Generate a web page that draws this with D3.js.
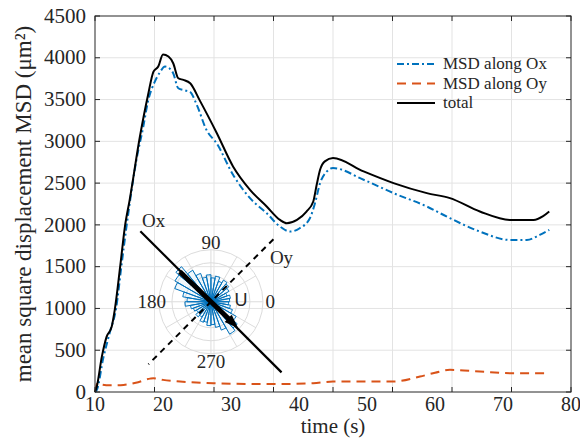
<!DOCTYPE html>
<html>
<head>
<meta charset="utf-8">
<script src="https://cdn.jsdelivr.net/npm/d3@7/dist/d3.min.js"></script>
<style>
  body { margin: 0; background: #fff; }
  text { font-family: "Liberation Serif", "Times New Roman", serif; fill: #262626; }
</style>
</head>
<body>
<svg id="chart" width="580" height="438"></svg>
<script>
// series: [time (s), MSD (um^2)]
const totalPts = [[10,0],[10.25,60],[11,420],[11.7,660],[12.45,780],[12.9,980],[13.7,1500],[14.4,1980],
  [15.1,2300],[16.6,3055],[17.8,3555],[18.6,3835],[19.3,3895],[20.0,4040],[20.8,4015],[21.5,3935],
  [22.25,3755],[23.0,3735],[24.0,3695],[25.4,3490],[27.9,3100],[30.3,2700],[32.8,2420],[35.25,2220],
  [37.2,2060],[38.2,2020],[39.7,2060],[41.1,2160],[42.1,2280],[42.6,2480],[43.1,2660],[43.8,2760],
  [45.0,2800],[49.5,2640],[53.9,2500],[58.8,2380],[62.2,2320],[66.6,2160],[71.0,2060],[74.5,2060],
  [75.9,2105],[76.8,2160]];
const oxPts = [[10,0],[10.3,30],[11.2,400],[12.2,720],[13.1,1000],[13.9,1520],[14.6,1960],[16.1,2780],
  [17.1,3175],[17.8,3480],[18.8,3715],[19.5,3820],[20.3,3895],[21.0,3870],[21.5,3815],[22.25,3635],
  [23.2,3610],[24.0,3590],[25.0,3430],[26.4,3135],[27.9,2975],[30.3,2600],[32.8,2320],[35.25,2140],
  [37.2,1980],[38.7,1920],[40.1,1960],[41.6,2080],[42.35,2260],[43.1,2500],[44.1,2640],[45.0,2680],
  [49.5,2540],[53.9,2380],[58.8,2220],[62.2,2080],[66.6,1920],[71.0,1820],[73.5,1820],[75.4,1880],
  [76.8,1940]];
const oyPts = [[10,0],[10.4,110],[11,90],[12.2,80],[14.2,85],[16,110],[18.1,160],[18.6,165],[20,145],
  [22.5,125],[27.4,105],[36.2,95],[42.1,105],[45,125],[53.9,125],[57.8,185],[60,230],[62.2,265],
  [66.6,245],[71.5,225],[76.9,225]];

const xTickLabels = [10, 20, 30, 40, 50, 60, 70, 80];
const xGridCount = 9;               // the figure has 9 tick marks under 8 labels
const yTicks = d3.range(0, 4501, 500);

// rose histogram of displacement direction: 36 bins of 10 deg, radius as fraction of outer ring
const roseBins = [0.36,0.38,0.33,0.40,0.45,0.48,0.42,0.50,0.46,0.52,0.48,0.58,0.70,0.88,0.80,0.74,0.55,0.46,
  0.50,0.40,0.36,0.32,0.38,0.34,0.42,0.40,0.46,0.44,0.50,0.58,0.72,0.66,0.56,0.44,0.38,0.34];
const ringLevels = [0.25, 0.5, 0.75, 1];
const spokeAngles = d3.range(0, 360, 30);
const thetaLabels = [0, 90, 180, 270];
const insetCenter = [27.05, 1080];  // data coords of the polar inset
const frameAxes = [
  { name: "Ox", angle: 135, len: 1.92, dash: null, labelAngle: 125, labelR: 1.92 },
  { name: "Oy", angle: 45,  len: 1.70, dash: "6,5", labelAngle: 32, labelR: 1.6 }
];
const uVector = { tailAngle: 136, tailR: 0.83, headAngle: -44, headR: 0.73, labelAngle: 4, labelR: 0.58 };

const legendItems = [
  { label: "MSD along Ox", color: "#0072BD", dash: "7,3,2,3" },
  { label: "MSD along Oy", color: "#D95319", dash: "9,6" },
  { label: "total", color: "#000000", dash: null }
];

const W = 580, H = 438;
const m = { left: 95, right: 9, top: 16, bottom: 46 };
const svg = d3.select("#chart");

const xScale = d3.scaleLinear().domain([10, 80]).range([m.left, W - m.right]);
const yScale = d3.scaleLinear().domain([0, 4500]).range([H - m.bottom, m.top]);
const x0 = xScale.range()[0], x1 = xScale.range()[1];
const y0 = yScale.range()[0], y1 = yScale.range()[1];
const gridX = d3.range(xGridCount).map(i => 10 + i * 70 / (xGridCount - 1));

// grid
const grid = svg.append("g").attr("stroke", "#e3e3e3").attr("stroke-width", 1);
grid.selectAll(".gx").data(gridX.slice(1, -1)).enter().append("line")
  .attr("x1", d => xScale(d)).attr("x2", d => xScale(d)).attr("y1", y1).attr("y2", y0);
grid.selectAll(".gy").data(yTicks.slice(1, -1)).enter().append("line")
  .attr("x1", x0).attr("x2", x1).attr("y1", d => yScale(d)).attr("y2", d => yScale(d));

// polar inset
const rScale = d3.scaleLinear().domain([0, 1]).range([0, 52]);
const polar = svg.append("g")
  .attr("transform", `translate(${xScale(insetCenter[0])},${yScale(insetCenter[1])})`);
const pxy = (deg, r) => [rScale(r) * Math.cos(deg * Math.PI / 180), -rScale(r) * Math.sin(deg * Math.PI / 180)];

polar.selectAll(".ring").data(ringLevels).enter().append("circle")
  .attr("r", d => rScale(d)).attr("fill", "none").attr("stroke", "#dcdcdc").attr("stroke-width", 1);
polar.selectAll(".spoke").data(spokeAngles).enter().append("line")
  .attr("x1", 0).attr("y1", 0)
  .attr("x2", d => pxy(d, 1)[0]).attr("y2", d => pxy(d, 1)[1])
  .attr("stroke", "#dcdcdc").attr("stroke-width", 1);
polar.selectAll(".tl").data(thetaLabels).enter().append("text")
  .attr("x", d => pxy(d, 1.14)[0]).attr("y", d => pxy(d, 1.14)[1])
  .attr("text-anchor", "middle").attr("dy", "0.35em")
  .attr("font-size", 19).text(d => d);

const arc = d3.arc().innerRadius(0);
polar.selectAll(".bin").data(roseBins).enter().append("path")
  .attr("d", (d, i) => arc({
    outerRadius: rScale(d),
    startAngle: Math.PI / 2 - (i + 1) * 10 * Math.PI / 180,
    endAngle: Math.PI / 2 - i * 10 * Math.PI / 180
  }))
  .attr("fill", "#0072BD").attr("fill-opacity", 0.06)
  .attr("stroke", "#0072BD").attr("stroke-width", 1);

frameAxes.forEach(a => {
  const p = pxy(a.angle, a.len), q = pxy(a.angle + 180, a.len);
  polar.append("line")
    .attr("x1", p[0]).attr("y1", p[1]).attr("x2", q[0]).attr("y2", q[1])
    .attr("stroke", "#000").attr("stroke-width", a.dash ? 2 : 2.2)
    .attr("stroke-dasharray", a.dash);
  const l = pxy(a.labelAngle, a.labelR);
  polar.append("text").attr("x", l[0]).attr("y", l[1]).attr("dy", "0.35em")
    .attr("text-anchor", "middle").attr("font-size", 19).text(a.name);
});

const tail = pxy(uVector.tailAngle, uVector.tailR), head = pxy(uVector.headAngle, uVector.headR);
const ang = Math.atan2(head[1] - tail[1], head[0] - tail[0]);
polar.append("line")
  .attr("x1", tail[0]).attr("y1", tail[1])
  .attr("x2", head[0] - 8 * Math.cos(ang)).attr("y2", head[1] - 8 * Math.sin(ang))
  .attr("stroke", "#000").attr("stroke-width", 5);
const hl = 14, hw = 5;
polar.append("path")
  .attr("d", `M${head[0]},${head[1]}` +
    `L${head[0] - hl * Math.cos(ang) + hw * Math.sin(ang)},${head[1] - hl * Math.sin(ang) - hw * Math.cos(ang)}` +
    `L${head[0] - hl * Math.cos(ang) - hw * Math.sin(ang)},${head[1] - hl * Math.sin(ang) + hw * Math.cos(ang)}Z`)
  .attr("fill", "#000");
const ul = pxy(uVector.labelAngle, uVector.labelR);
polar.append("text").attr("x", ul[0]).attr("y", ul[1]).attr("dy", "0.36em")
  .attr("text-anchor", "middle").attr("font-size", 18)
  .style("font-family", "'Liberation Sans', Arial, sans-serif").text("U");

// series
const line = d3.line().x(d => xScale(d[0])).y(d => yScale(d[1])).curve(d3.curveMonotoneX);
const series = [
  { pts: oyPts, ...legendItems[1] },
  { pts: oxPts, ...legendItems[0] },
  { pts: totalPts, ...legendItems[2] }
];
svg.selectAll(".series").data(series).enter().append("path")
  .attr("d", d => line(d.pts))
  .attr("fill", "none").attr("stroke", d => d.color).attr("stroke-width", 2)
  .attr("stroke-dasharray", d => d.dash);

// axes box + inward ticks
svg.append("rect").attr("x", x0).attr("y", y1).attr("width", x1 - x0).attr("height", y0 - y1)
  .attr("fill", "none").attr("stroke", "#262626").attr("stroke-width", 1);
const ticks = svg.append("g").attr("stroke", "#262626").attr("stroke-width", 1);
gridX.forEach(v => {
  ticks.append("line").attr("x1", xScale(v)).attr("x2", xScale(v)).attr("y1", y0).attr("y2", y0 - 5);
  ticks.append("line").attr("x1", xScale(v)).attr("x2", xScale(v)).attr("y1", y1).attr("y2", y1 + 5);
});
yTicks.forEach(v => {
  ticks.append("line").attr("x1", x0).attr("x2", x0 + 5).attr("y1", yScale(v)).attr("y2", yScale(v));
  ticks.append("line").attr("x1", x1).attr("x2", x1 - 5).attr("y1", yScale(v)).attr("y2", yScale(v));
});

svg.selectAll(".xl").data(xTickLabels).enter().append("text")
  .attr("x", d => xScale(d)).attr("y", y0 + 19).attr("text-anchor", "middle")
  .attr("font-size", 20).text(d => d);
svg.selectAll(".yl").data(yTicks).enter().append("text")
  .attr("x", x0 - 9).attr("y", d => yScale(d)).attr("dy", "0.32em").attr("text-anchor", "end")
  .attr("font-size", 21).text(d => d);

svg.append("text").attr("x", (x0 + x1) / 2).attr("y", H - 5).attr("text-anchor", "middle")
  .attr("font-size", 21).text("time (s)");
svg.append("text")
  .attr("transform", `translate(31,${(y0 + y1) / 2}) rotate(-90)`)
  .attr("text-anchor", "middle").attr("font-size", 23)
  .text("mean square displacement MSD (\u03BCm\u00B2)");

// legend
const lg = svg.append("g").attr("transform", "translate(397,64)");
const row = lg.selectAll(".row").data(legendItems).enter().append("g")
  .attr("transform", (d, i) => `translate(0,${i * 19.5})`);
row.append("line").attr("x1", 0).attr("x2", 38).attr("y1", 0).attr("y2", 0)
  .attr("stroke", d => d.color).attr("stroke-width", 2).attr("stroke-dasharray", d => d.dash);
row.append("text").attr("x", 46).attr("dy", "0.32em").attr("font-size", 17).text(d => d.label);
</script>
</body>
</html>
